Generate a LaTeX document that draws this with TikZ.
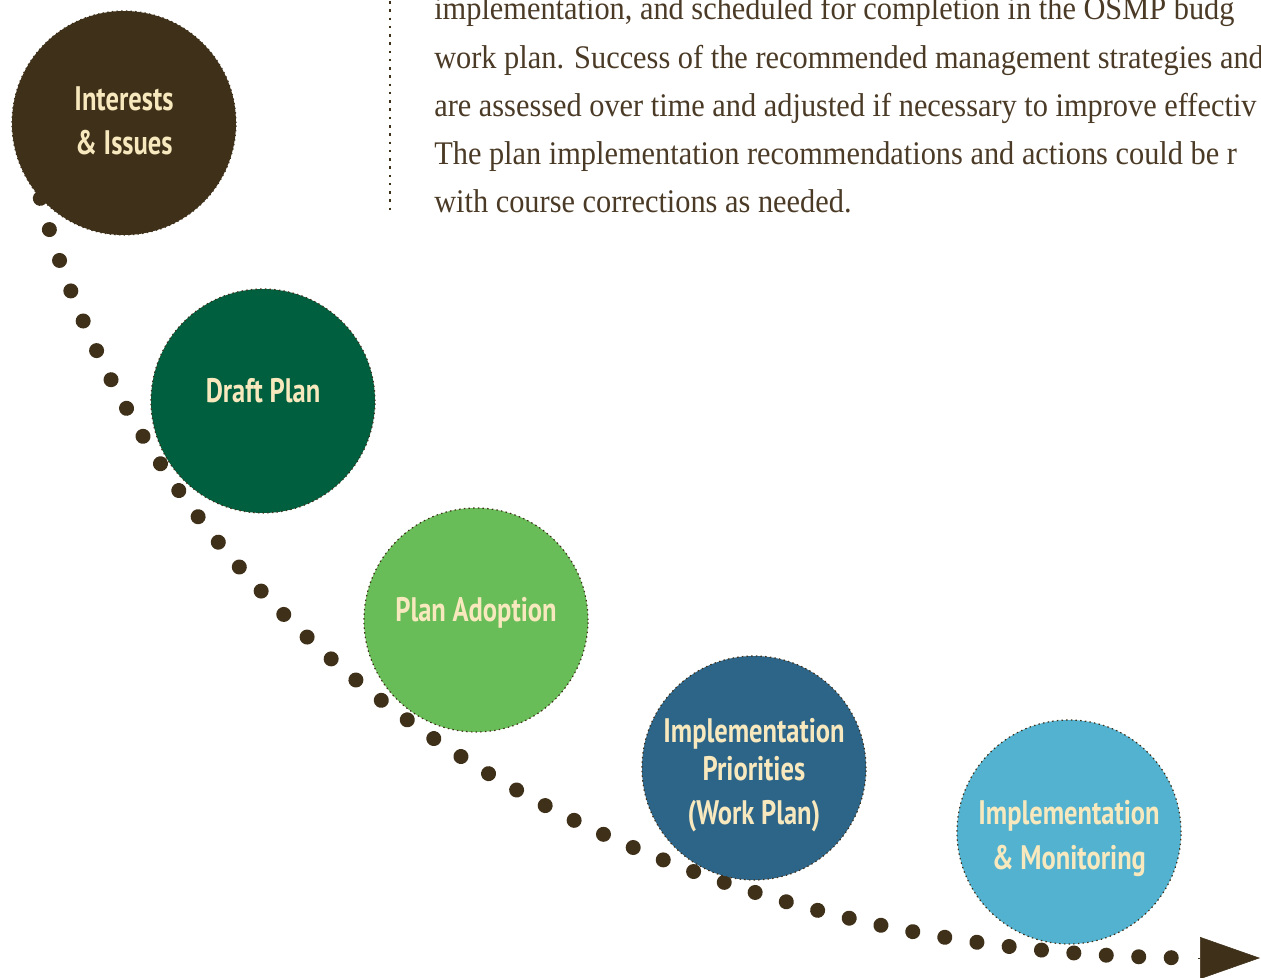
\documentclass[tikz,border=0pt]{standalone}
\usepackage{fontspec}
\setmainfont[FakeStretch=0.92]{Liberation Serif}
\newfontfamily\stagefont[FakeStretch=0.78]{PT Sans}
\usepackage{tikz}
\usetikzlibrary{arrows.meta}
\usetikzlibrary{positioning}
\definecolor{bark}{HTML}{3F3019}
\definecolor{ink}{HTML}{4A3A26}
\definecolor{cream}{HTML}{F7E8BE}
\definecolor{forest}{HTML}{005F3E}
\definecolor{leaf}{HTML}{69BD58}
\definecolor{lake}{HTML}{2D6589}
\definecolor{sky}{HTML}{52B2CF}
\tikzset{
    stage/.style={
           circle,
           draw=bark,
           line width=0.9pt,
           dash pattern=on 1.1pt off 2.4pt,
           minimum size=168pt,
           inner sep=0pt,
           text=cream,
           font=\stagefont\bfseries\fontsize{25.5}{33.5}\selectfont,
           },
    para/.style={
           anchor=base west,
           inner sep=0pt,
           text=ink,
           font=\fontsize{24.75}{36}\selectfont,
           },
    trail/.style={
           draw=bark,
           line width=11.25pt,
           line cap=round,
           dash pattern=on 0.01pt off 24.37pt,
           },
}
\begin{document}
\begin{tikzpicture}[x=0.75pt,y=-0.75pt]
 \useasboundingbox (0,0) rectangle (1261,978);

 \begin{scope}
 \clip (0,0) rectangle (1261,978);
 \draw[bark, line width=1.9pt, dash pattern=on 1.9pt off 4.3pt]
   (390,1) -- (390,212);
 \node[para] (TXTONE) at (434,20)
   {implementation, and scheduled for completion in the OSMP budg};
 \node[para] (TXTTWO) at (434,68)
   {work plan. Success of the recommended management strategies and a};
 \node[para] (TXTTHREE) at (434,116)
   {are assessed over time and adjusted if necessary to improve effectiv};
 \node[para] (TXTFOUR) at (434,164)
   {The plan implementation recommendations and actions could be r};
 \node[para] (TXTFIVE) at (434,212)
   {with course corrections as needed.};
 \end{scope}

 \coordinate (CURVEEND) at (1203,958);
 \coordinate (ARROWBASE) at (1198,958);
 \coordinate (ARROWTIP) at (1260,958);

 \node[stage, fill=bark, align=center, text height=52pt, text depth=4.5pt]
 (INTERESTS) at (124,123)
 {Interests\\\& Issues};

 \path[trail] (INTERESTS.222) .. controls (160,640) and (603,958) .. (CURVEEND);

 \node[stage, fill=forest, text height=19pt, text depth=16.5pt] (DRAFT) at (263,401)
 {Draft Plan};

 \node[stage, fill=leaf, text height=19pt, text depth=16.5pt] (ADOPTION) at (476,620)
 {Plan Adoption};

 \node[stage, fill=lake, align=center, text height=91pt, text depth=5.6pt,
 font=\stagefont\bfseries\fontsize{25.5}{28.5}\selectfont] (PRIORITIES) at (754,768)
 {Implementation\\Priorities\\[4.5pt](Work Plan)};

 \node[stage, fill=sky, align=center, text height=62pt, text depth=5.6pt]
 (MONITORING) at (1069,832)
 {Implementation\\\& Monitoring};

 \draw[bark, line width=0.4pt, -{Triangle[length=45pt,width=31.5pt]}]
   (ARROWBASE) -- (ARROWTIP);
\end{tikzpicture}
\end{document}
